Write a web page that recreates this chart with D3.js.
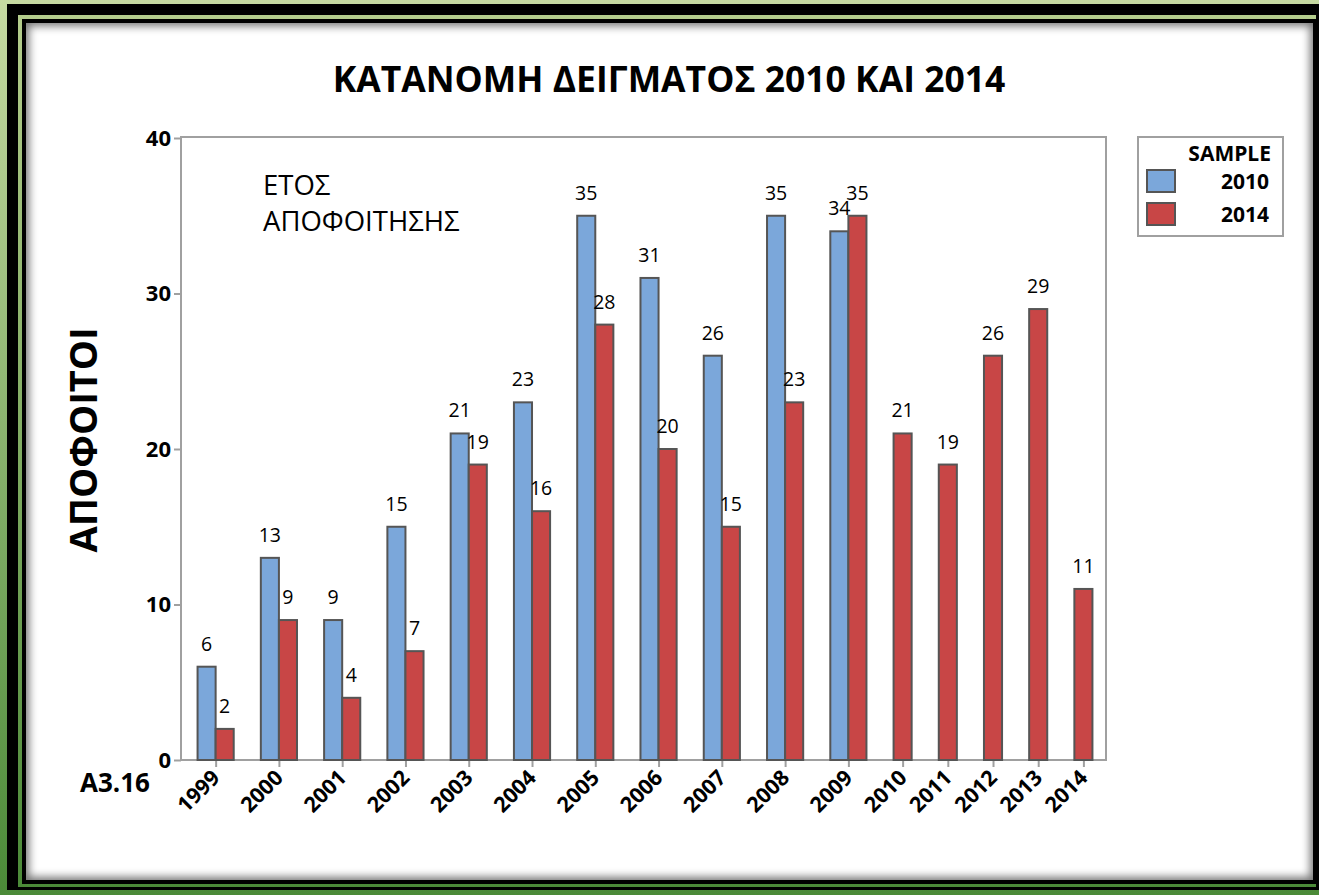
<!DOCTYPE html>
<html>
<head>
<meta charset="utf-8">
<script src="https://cdn.jsdelivr.net/npm/d3@7"></script>
<style>
  html, body { margin: 0; padding: 0; }
  body { width: 1319px; height: 895px; overflow: hidden; position: relative;
         background: linear-gradient(#c6daa2, #4b8a38); font-family: "Open Sans", "Noto Sans", sans-serif; }
  .frame { position: absolute; }
  #shadow { position: absolute; left: 26px; top: 23px; width: 1287px; height: 857px;
            background: #fff; box-shadow: inset 0 0 9px 3px rgba(0,0,0,0.55); }
  svg { position: absolute; left: 0; top: 0; }
</style>
</head>
<body>
<div class="frame" style="left:7px;top:4px;width:1312px;height:886px;background:#000"></div>
<div class="frame" style="left:18px;top:15px;width:1298px;height:872px;background:linear-gradient(#b4cd8c,#4b8a38)"></div>
<div class="frame" style="left:22px;top:19px;width:1294px;height:865px;background:#000"></div>
<div id="shadow"></div>
<script>
// categories and values
var years = ["1999","2000","2001","2002","2003","2004","2005","2006","2007","2008","2009","2010","2011","2012","2013","2014"];
var sample2010 = [6, 13, 9, 15, 21, 23, 35, 31, 26, 35, 34, null, null, null, null, null];
var sample2014 = [2, 9, 4, 7, 19, 16, 28, 20, 15, 23, 35, 21, 19, 26, 29, 11];
var yTicks = [0, 10, 20, 30, 40];
var seriesNames = ["2010", "2014"];
var colors = ["#7ba7da", "#c84646"];

var W = 1319, H = 895;
var plot = { left: 181, right: 1106, top: 138, bottom: 760 };

var svg = d3.select("body").append("svg")
    .attr("width", W)
    .attr("height", H);

// each category takes (number of bars + 1.5) units wide
var gapU = 1.5;
var cats = [];
var pos = 0;
years.forEach(function (yr, i) {
    var vals = [];
    if (sample2010[i] != null) vals.push({ s: 0, v: sample2010[i] });
    if (sample2014[i] != null) vals.push({ s: 1, v: sample2014[i] });
    var w = vals.length + gapU;
    cats.push({ year: yr, start: pos, width: w, vals: vals });
    pos += w;
});

var x = d3.scaleLinear().domain([0, pos]).range([plot.left + 3, plot.right]);
var y = d3.scaleLinear().domain([0, 40]).range([plot.bottom, plot.top]);

// title
svg.append("text")
    .attr("x", 669).attr("y", 92)
    .attr("text-anchor", "middle")
    .style("font-size", "35.5px").style("font-weight", "bold")
    .text("ΚΑΤΑΝΟΜΗ ΔΕΙΓΜΑΤΟΣ 2010 ΚΑΙ 2014");

// y axis
var yAxis = svg.append("g")
    .attr("transform", "translate(" + plot.left + ",0)")
    .call(d3.axisLeft(y).tickValues(yTicks).tickSize(7).tickPadding(3));
yAxis.select(".domain").remove();
yAxis.selectAll("line").attr("stroke", "#a0a0a0").attr("stroke-width", 2);
yAxis.selectAll("text").style("font-size", "22px").style("font-weight", "bold")
    .style("font-family", "'Open Sans', sans-serif").attr("fill", "#000");

// x axis
var xAxis = svg.append("g")
    .attr("transform", "translate(0," + plot.bottom + ")")
    .call(d3.axisBottom(x)
        .tickValues(cats.map(function (c) { return c.start + c.width / 2; }))
        .tickFormat(function (d, i) { return cats[i].year; })
        .tickSize(7));
xAxis.select(".domain").remove();
xAxis.selectAll("line").attr("stroke", "#a0a0a0").attr("stroke-width", 2);
xAxis.selectAll("text")
    .style("font-size", "21.5px").style("font-weight", "bold")
    .style("font-family", "'Open Sans', sans-serif").attr("fill", "#000")
    .attr("text-anchor", "end")
    .attr("dy", null).attr("y", 0)
    .attr("transform", "translate(5,19) rotate(-45)");

// plot frame
svg.append("rect")
    .attr("x", plot.left).attr("y", plot.top - 1)
    .attr("width", plot.right - plot.left).attr("height", plot.bottom - plot.top + 1)
    .attr("fill", "none").attr("stroke", "#a0a0a0").attr("stroke-width", 2);

// bars
var bars = [];
cats.forEach(function (c) {
    c.vals.forEach(function (b, k) {
        bars.push({ x0: c.start + gapU / 2 + k, s: b.s, v: b.v });
    });
});

svg.append("g").selectAll("rect")
    .data(bars)
    .enter().append("rect")
    .attr("x", function (d) { return x(d.x0); })
    .attr("y", function (d) { return y(d.v); })
    .attr("width", function (d) { return x(d.x0 + 1) - x(d.x0); })
    .attr("height", function (d) { return y(0) - y(d.v); })
    .attr("fill", function (d) { return colors[d.s]; })
    .attr("stroke", "#555").attr("stroke-width", 2);

svg.append("g").selectAll("text")
    .data(bars)
    .enter().append("text")
    .attr("x", function (d) { return x(d.x0 + 0.5); })
    .attr("y", function (d) { return y(d.v) - 16; })
    .attr("text-anchor", "middle")
    .style("font-size", "19.5px")
    .text(function (d) { return d.v; });

// annotation
svg.append("text").attr("x", 263).attr("y", 195)
    .style("font-size", "27.5px").text("ΕΤΟΣ");
svg.append("text").attr("x", 263).attr("y", 231)
    .style("font-size", "27.5px").text("ΑΠΟΦΟΙΤΗΣΗΣ");

// y label
svg.append("text")
    .attr("transform", "translate(97,440) rotate(-90)")
    .attr("text-anchor", "middle")
    .style("font-size", "38px").style("font-weight", "bold")
    .text("ΑΠΟΦΟΙΤΟΙ");

svg.append("text").attr("x", 80).attr("y", 792)
    .style("font-size", "26px").style("font-weight", "bold")
    .text("A3.16");

// legend
var lg = svg.append("g");
lg.append("rect").attr("x", 1138).attr("y", 137).attr("width", 145).attr("height", 99)
    .attr("fill", "#fff").attr("stroke", "#a0a0a0").attr("stroke-width", 2);
lg.append("text").attr("x", 1271).attr("y", 161).attr("text-anchor", "end")
    .style("font-size", "21px").style("font-weight", "bold").text("SAMPLE");
seriesNames.forEach(function (n, i) {
    lg.append("rect").attr("x", 1147).attr("y", 170 + i * 33).attr("width", 28).attr("height", 22)
        .attr("fill", colors[i]).attr("stroke", "#555").attr("stroke-width", 2);
    lg.append("text").attr("x", 1269).attr("y", 189 + i * 33).attr("text-anchor", "end")
        .style("font-size", "21px").style("font-weight", "bold").text(n);
});
</script>
</body>
</html>
